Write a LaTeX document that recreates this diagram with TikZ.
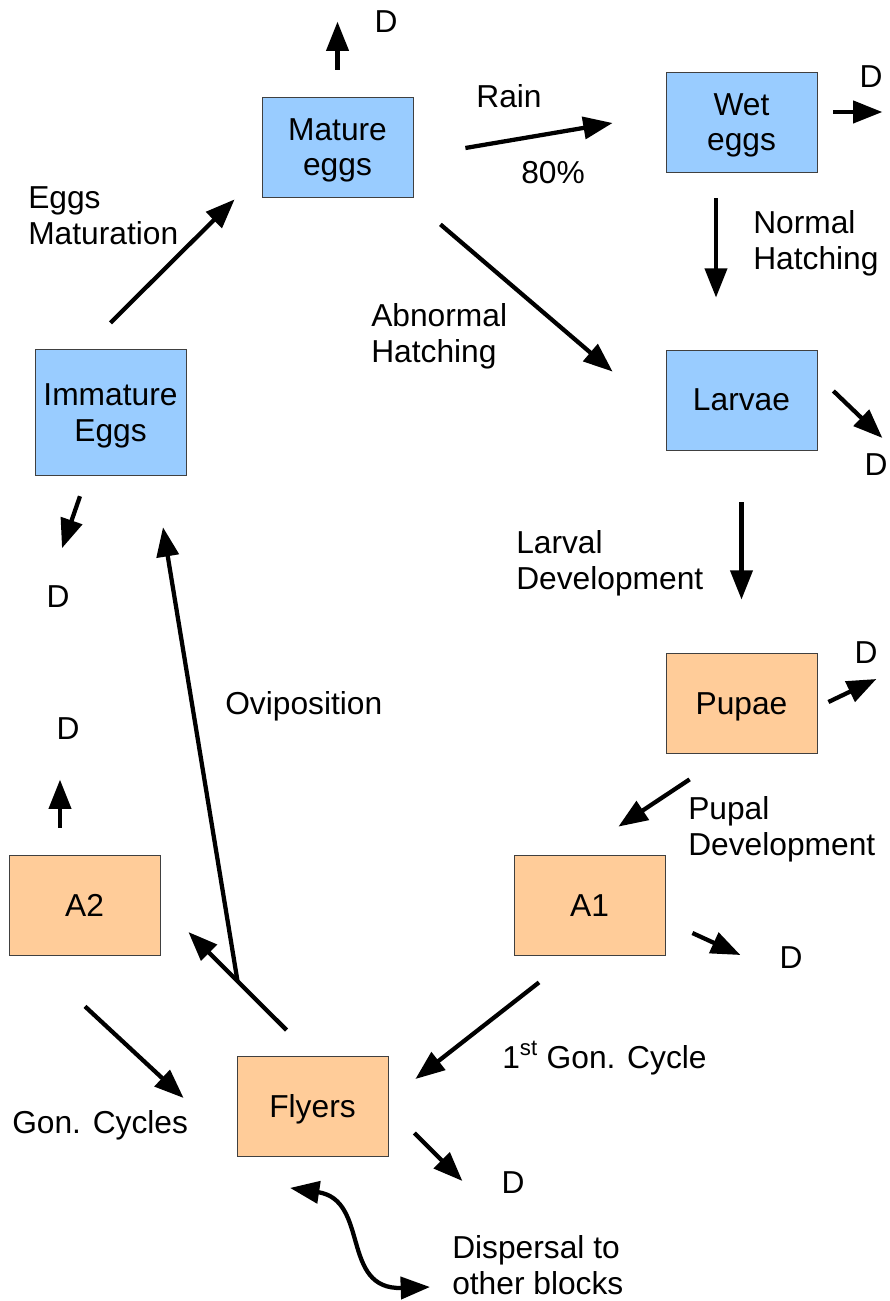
\documentclass[tikz,border=0pt]{standalone}
\usepackage{fontspec}
\setmainfont{Liberation Sans}
\usetikzlibrary{arrows.meta}
\definecolor{eggblue}{HTML}{99CCFF}
\definecolor{adultorange}{HTML}{FFCC99}
\newcommand\stagefont{\fontsize{23.8}{26.6}\selectfont}
\newcommand\linestrut{\rule[-0.212em]{0pt}{1.117em}}
\newcommand\twolines[2]{\linestrut#1\\#2\linestrut}

\begin{document}
\begin{tikzpicture}[x=0.75pt,y=-0.75pt,
    stage/.style={draw=black!75,line width=0.6pt,minimum width=113.25pt,minimum height=75pt,inner sep=0pt,align=center,font=\stagefont},
    eggbox/.style={stage,fill=eggblue},
    adultbox/.style={stage,fill=adultorange},
    txt/.style={align=left,font=\stagefont,inner sep=0pt},
    flow/.style={line width=3.2pt,-{Triangle[length=22pt,width=16.5pt]}},
    flowboth/.style={line width=3.2pt,{Triangle[length=22pt,width=16.5pt]}-{Triangle[length=22pt,width=16.5pt]}}]
  \useasboundingbox (0,0) rectangle (889,1301);

  \node[eggbox](mature)at(337.5,147){\twolines{Mature}{eggs}};
  \node[eggbox](wet)at(741.5,122){\twolines{Wet}{eggs}};
  \node[eggbox](larvae)at(741.5,400){\linestrut Larvae};
  \node[eggbox,minimum height=95pt](immature)at(110.5,412.5){\twolines{Immature}{Eggs}};
  \node[adultbox](pupae)at(741.5,703){\linestrut Pupae};
  \node[adultbox](a1)at(589.5,905){\linestrut A1};
  \node[adultbox](a2)at(84.5,905){\linestrut A2};
  \node[adultbox](flyers)at(312.5,1106.5){\linestrut Flyers};

  \node[txt](rain)at(509,97){\linestrut Rain};
  \node[txt](pct)at(553,173){\linestrut 80\%};
  \node[txt,anchor=west](normal)at(753,240.5){\twolines{Normal}{Hatching}};
  \node[txt,anchor=west](abnormal)at(371,333.5){\twolines{Abnormal}{Hatching}};
  \node[txt,anchor=west](larval)at(516,560.5){\twolines{Larval}{Development}};
  \node[txt,anchor=west](pupal)at(688,826.5){\twolines{Pupal}{Development}};
  \node[txt,anchor=west](gon1)at(502,1057){\linestrut 1\textsuperscript{st} Gon. Cycle};
  \node[txt,anchor=west](gons)at(12,1122){\linestrut Gon. Cycles};
  \node[txt,anchor=west](ovi)at(225,703){\linestrut Oviposition};
  \node[txt,anchor=west](matur)at(28,215.5){\twolines{Eggs}{Maturation}};
  \node[txt,anchor=west](disp)at(452,1265.5){\twolines{Dispersal to}{other blocks}};

  \node[txt](d1)at(386,22){\linestrut D};
  \node[txt](d2)at(871,77){\linestrut D};
  \node[txt](d3)at(876,465){\linestrut D};
  \node[txt](d4)at(866,652){\linestrut D};
  \node[txt](d5)at(791,957){\linestrut D};
  \node[txt](d6)at(513,1182){\linestrut D};
  \node[txt](d7)at(68,728){\linestrut D};
  \node[txt](d8)at(58,597){\linestrut D};

  \draw[flow]([shift={(0,-27)}]mature.north)--([shift={(0,-75)}]mature.north);
  \draw[flow]([shift={(52,1)}]mature.east)--([shift={(-53,1)}]wet.west);
  \draw[flow]([shift={(16,-10)}]wet.east)--([shift={(65,-10)}]wet.east);
  \draw[flow]([shift={(-25.5,26)}]wet.south)--([shift={(-25.5,-52)}]larvae.north);
  \draw[flow]([shift={(27,27)}]mature.south east)--([shift={(-53,22)}]larvae.north west);
  \draw[flow]([shift={(16,-9)}]larvae.east)--([shift={(65,38)}]larvae.east);
  \draw[flow]([shift={(0,52)}]larvae.south)--([shift={(0,-53)}]pupae.north);
  \draw[flow]([shift={(11,-1)}]pupae.east)--([shift={(59,-24)}]pupae.east);
  \draw[flow]([shift={(24,26)}]pupae.south west)--([shift={(-47,-28)}]a1.north east);
  \draw[flow]([shift={(27,28)}]a1.east)--([shift={(75,50)}]a1.east);
  \draw[flow]([shift={(-50.5,27)}]a1.south)--([shift={(27,-27.5)}]flyers.east);
  \draw[flow]([shift={(26,26.5)}]flyers.east)--([shift={(74,74.5)}]flyers.east);
  \draw[flow]([shift={(50,-26)}]flyers.north west)--coordinate[pos=0.5](split)([shift={(28,27)}]a2.east);
  \draw[flow](split)--([shift={(52.5,51)}]immature.south);
  \draw[flow]([shift={(0.5,51)}]a2.south)--([shift={(-53,-8.5)}]flyers.west);
  \draw[flow]([shift={(-24.5,-27)}]a2.north)--([shift={(-24.5,-75)}]a2.north);
  \draw[flow]([shift={(-30.5,20)}]immature.south)--([shift={(-48.5,72)}]immature.south);
  \draw[flow]([shift={(0,-26)}]immature.north)--([shift={(-27,2)}]mature.south west);
  \draw[flowboth]([shift={(-22.5,31)}]flyers.south) .. controls (370,1200) and (340,1290) .. ([shift={(-22,21.5)}]disp.west);
\end{tikzpicture}
\end{document}
